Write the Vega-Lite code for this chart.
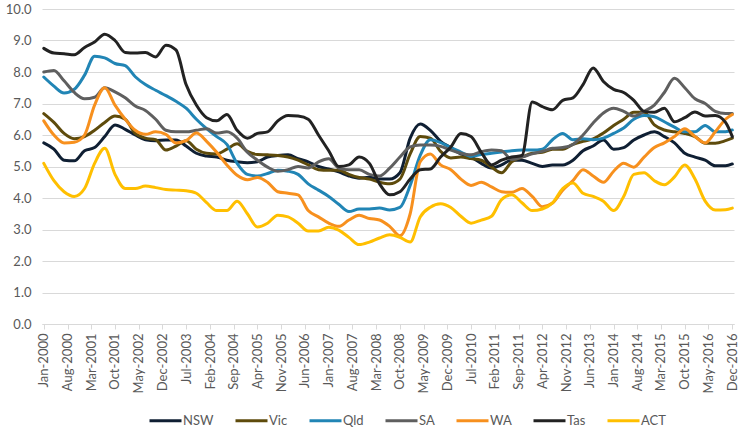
{
  "$schema": "https://vega.github.io/schema/vega-lite/v6.json",
  "width": 692,
  "height": 315,
  "autosize": {"type": "none"},
  "padding": {"left": 42, "top": 9, "right": 20, "bottom": 110},
  "background": "white",
  "config": {
    "view": {"stroke": null},
    "font": "Lato"
  },
  "data": {
    "values": [
      {"d": "2000-01-01", "NSW": 5.75, "Vic": 6.68, "Qld": 7.84, "SA": 8.0, "WA": 6.45, "Tas": 8.75, "ACT": 5.1},
      {"d": "2000-04-01", "NSW": 5.55, "Vic": 6.4, "Qld": 7.55, "SA": 8.05, "WA": 6.0, "Tas": 8.6, "ACT": 4.55},
      {"d": "2000-07-01", "NSW": 5.2, "Vic": 6.05, "Qld": 7.33, "SA": 7.72, "WA": 5.75, "Tas": 8.58, "ACT": 4.2},
      {"d": "2000-10-01", "NSW": 5.18, "Vic": 5.88, "Qld": 7.45, "SA": 7.35, "WA": 5.77, "Tas": 8.55, "ACT": 4.05},
      {"d": "2001-01-01", "NSW": 5.5, "Vic": 5.95, "Qld": 7.9, "SA": 7.15, "WA": 6.0, "Tas": 8.78, "ACT": 4.3},
      {"d": "2001-04-01", "NSW": 5.6, "Vic": 6.15, "Qld": 8.5, "SA": 7.2, "WA": 6.95, "Tas": 8.95, "ACT": 5.1},
      {"d": "2001-07-01", "NSW": 5.95, "Vic": 6.4, "Qld": 8.45, "SA": 7.5, "WA": 7.5, "Tas": 9.2, "ACT": 5.58},
      {"d": "2001-10-01", "NSW": 6.32, "Vic": 6.6, "Qld": 8.27, "SA": 7.37, "WA": 6.95, "Tas": 9.0, "ACT": 4.75},
      {"d": "2002-01-01", "NSW": 6.18, "Vic": 6.5, "Qld": 8.2, "SA": 7.18, "WA": 6.5, "Tas": 8.62, "ACT": 4.3},
      {"d": "2002-04-01", "NSW": 6.0, "Vic": 6.05, "Qld": 7.85, "SA": 6.92, "WA": 6.15, "Tas": 8.6, "ACT": 4.3},
      {"d": "2002-07-01", "NSW": 5.85, "Vic": 5.9, "Qld": 7.6, "SA": 6.78, "WA": 6.02, "Tas": 8.62, "ACT": 4.38},
      {"d": "2002-10-01", "NSW": 5.82, "Vic": 5.85, "Qld": 7.42, "SA": 6.5, "WA": 6.1, "Tas": 8.48, "ACT": 4.33},
      {"d": "2003-01-01", "NSW": 5.84, "Vic": 5.52, "Qld": 7.25, "SA": 6.15, "WA": 6.02, "Tas": 8.85, "ACT": 4.27},
      {"d": "2003-04-01", "NSW": 5.84, "Vic": 5.65, "Qld": 7.07, "SA": 6.1, "WA": 5.75, "Tas": 8.7, "ACT": 4.25},
      {"d": "2003-07-01", "NSW": 5.65, "Vic": 5.82, "Qld": 6.85, "SA": 6.1, "WA": 5.82, "Tas": 7.6, "ACT": 4.23},
      {"d": "2003-10-01", "NSW": 5.42, "Vic": 5.55, "Qld": 6.5, "SA": 6.15, "WA": 6.06, "Tas": 6.95, "ACT": 4.15},
      {"d": "2004-01-01", "NSW": 5.33, "Vic": 5.42, "Qld": 6.2, "SA": 6.2, "WA": 5.8, "Tas": 6.55, "ACT": 3.85},
      {"d": "2004-04-01", "NSW": 5.3, "Vic": 5.4, "Qld": 5.95, "SA": 6.06, "WA": 5.45, "Tas": 6.45, "ACT": 3.6},
      {"d": "2004-07-01", "NSW": 5.2, "Vic": 5.55, "Qld": 5.7, "SA": 6.1, "WA": 5.05, "Tas": 6.65, "ACT": 3.6},
      {"d": "2004-10-01", "NSW": 5.15, "Vic": 5.72, "Qld": 5.1, "SA": 5.9, "WA": 4.72, "Tas": 6.15, "ACT": 3.9},
      {"d": "2005-01-01", "NSW": 5.12, "Vic": 5.48, "Qld": 4.75, "SA": 5.45, "WA": 4.58, "Tas": 5.9, "ACT": 3.5},
      {"d": "2005-04-01", "NSW": 5.15, "Vic": 5.38, "Qld": 4.7, "SA": 5.2, "WA": 4.65, "Tas": 6.05, "ACT": 3.08},
      {"d": "2005-07-01", "NSW": 5.3, "Vic": 5.37, "Qld": 4.78, "SA": 4.98, "WA": 4.5, "Tas": 6.1, "ACT": 3.2},
      {"d": "2005-10-01", "NSW": 5.35, "Vic": 5.35, "Qld": 4.88, "SA": 4.85, "WA": 4.2, "Tas": 6.45, "ACT": 3.45},
      {"d": "2006-01-01", "NSW": 5.37, "Vic": 5.3, "Qld": 4.85, "SA": 4.9, "WA": 4.15, "Tas": 6.62, "ACT": 3.4},
      {"d": "2006-04-01", "NSW": 5.25, "Vic": 5.2, "Qld": 4.75, "SA": 5.0, "WA": 4.1, "Tas": 6.6, "ACT": 3.2},
      {"d": "2006-07-01", "NSW": 5.15, "Vic": 5.05, "Qld": 4.45, "SA": 4.95, "WA": 3.6, "Tas": 6.5, "ACT": 2.95},
      {"d": "2006-10-01", "NSW": 5.0, "Vic": 4.9, "Qld": 4.25, "SA": 5.15, "WA": 3.4, "Tas": 6.0, "ACT": 2.95},
      {"d": "2007-01-01", "NSW": 4.92, "Vic": 4.88, "Qld": 4.05, "SA": 5.25, "WA": 3.2, "Tas": 5.5, "ACT": 3.07},
      {"d": "2007-04-01", "NSW": 4.83, "Vic": 4.88, "Qld": 3.8, "SA": 4.95, "WA": 3.1, "Tas": 5.0, "ACT": 2.98},
      {"d": "2007-07-01", "NSW": 4.7, "Vic": 4.75, "Qld": 3.57, "SA": 4.9, "WA": 3.3, "Tas": 5.05, "ACT": 2.75},
      {"d": "2007-10-01", "NSW": 4.63, "Vic": 4.65, "Qld": 3.65, "SA": 4.9, "WA": 3.45, "Tas": 5.3, "ACT": 2.52},
      {"d": "2008-01-01", "NSW": 4.66, "Vic": 4.6, "Qld": 3.65, "SA": 4.75, "WA": 3.35, "Tas": 5.1, "ACT": 2.6},
      {"d": "2008-04-01", "NSW": 4.6, "Vic": 4.5, "Qld": 3.68, "SA": 4.7, "WA": 3.3, "Tas": 4.45, "ACT": 2.73},
      {"d": "2008-07-01", "NSW": 4.6, "Vic": 4.45, "Qld": 3.62, "SA": 4.95, "WA": 3.1, "Tas": 4.1, "ACT": 2.83},
      {"d": "2008-10-01", "NSW": 4.8, "Vic": 4.6, "Qld": 3.7, "SA": 5.3, "WA": 2.8, "Tas": 4.2, "ACT": 2.75},
      {"d": "2009-01-01", "NSW": 5.9, "Vic": 5.4, "Qld": 4.4, "SA": 5.62, "WA": 3.5, "Tas": 4.6, "ACT": 2.6},
      {"d": "2009-04-01", "NSW": 6.35, "Vic": 5.95, "Qld": 5.35, "SA": 5.68, "WA": 5.15, "Tas": 4.9, "ACT": 3.4},
      {"d": "2009-07-01", "NSW": 6.15, "Vic": 5.9, "Qld": 5.85, "SA": 5.68, "WA": 5.4, "Tas": 4.92, "ACT": 3.71},
      {"d": "2009-10-01", "NSW": 5.8, "Vic": 5.48, "Qld": 5.76, "SA": 5.64, "WA": 5.05, "Tas": 5.3, "ACT": 3.82},
      {"d": "2010-01-01", "NSW": 5.6, "Vic": 5.27, "Qld": 5.6, "SA": 5.52, "WA": 4.9, "Tas": 5.62, "ACT": 3.7},
      {"d": "2010-04-01", "NSW": 5.4, "Vic": 5.3, "Qld": 5.46, "SA": 5.42, "WA": 4.6, "Tas": 6.05, "ACT": 3.42},
      {"d": "2010-07-01", "NSW": 5.3, "Vic": 5.25, "Qld": 5.32, "SA": 5.37, "WA": 4.4, "Tas": 5.95, "ACT": 3.2},
      {"d": "2010-10-01", "NSW": 5.1, "Vic": 5.2, "Qld": 5.38, "SA": 5.47, "WA": 4.5, "Tas": 5.45, "ACT": 3.3},
      {"d": "2011-01-01", "NSW": 4.95, "Vic": 4.98, "Qld": 5.42, "SA": 5.52, "WA": 4.35, "Tas": 5.05, "ACT": 3.42},
      {"d": "2011-04-01", "NSW": 5.05, "Vic": 4.8, "Qld": 5.46, "SA": 5.5, "WA": 4.2, "Tas": 5.2, "ACT": 3.95},
      {"d": "2011-07-01", "NSW": 5.2, "Vic": 5.15, "Qld": 5.5, "SA": 5.22, "WA": 4.18, "Tas": 5.3, "ACT": 4.1},
      {"d": "2011-10-01", "NSW": 5.2, "Vic": 5.3, "Qld": 5.52, "SA": 5.3, "WA": 4.3, "Tas": 5.35, "ACT": 3.85},
      {"d": "2012-01-01", "NSW": 5.1, "Vic": 5.42, "Qld": 5.52, "SA": 5.4, "WA": 4.05, "Tas": 7.05, "ACT": 3.6},
      {"d": "2012-04-01", "NSW": 5.0, "Vic": 5.45, "Qld": 5.55, "SA": 5.48, "WA": 3.72, "Tas": 6.9, "ACT": 3.65},
      {"d": "2012-07-01", "NSW": 5.05, "Vic": 5.55, "Qld": 5.85, "SA": 5.58, "WA": 3.84, "Tas": 6.8, "ACT": 3.84},
      {"d": "2012-10-01", "NSW": 5.05, "Vic": 5.55, "Qld": 6.05, "SA": 5.6, "WA": 4.25, "Tas": 7.1, "ACT": 4.3},
      {"d": "2013-01-01", "NSW": 5.2, "Vic": 5.7, "Qld": 5.85, "SA": 5.7, "WA": 4.55, "Tas": 7.18, "ACT": 4.48},
      {"d": "2013-04-01", "NSW": 5.5, "Vic": 5.8, "Qld": 5.88, "SA": 6.0, "WA": 4.9, "Tas": 7.6, "ACT": 4.15},
      {"d": "2013-07-01", "NSW": 5.65, "Vic": 5.88, "Qld": 5.85, "SA": 6.38, "WA": 4.7, "Tas": 8.13, "ACT": 4.05},
      {"d": "2013-10-01", "NSW": 5.84, "Vic": 6.06, "Qld": 5.9, "SA": 6.7, "WA": 4.5, "Tas": 7.7, "ACT": 3.9},
      {"d": "2014-01-01", "NSW": 5.55, "Vic": 6.3, "Qld": 6.05, "SA": 6.85, "WA": 4.85, "Tas": 7.45, "ACT": 3.6},
      {"d": "2014-04-01", "NSW": 5.6, "Vic": 6.5, "Qld": 6.22, "SA": 6.75, "WA": 5.1, "Tas": 7.35, "ACT": 4.05},
      {"d": "2014-07-01", "NSW": 5.84, "Vic": 6.72, "Qld": 6.5, "SA": 6.6, "WA": 4.98, "Tas": 7.1, "ACT": 4.75},
      {"d": "2014-10-01", "NSW": 6.0, "Vic": 6.72, "Qld": 6.62, "SA": 6.75, "WA": 5.3, "Tas": 6.75, "ACT": 4.8},
      {"d": "2015-01-01", "NSW": 6.1, "Vic": 6.32, "Qld": 6.58, "SA": 6.95, "WA": 5.6, "Tas": 6.72, "ACT": 4.55},
      {"d": "2015-04-01", "NSW": 5.95, "Vic": 6.16, "Qld": 6.42, "SA": 7.35, "WA": 5.75, "Tas": 6.85, "ACT": 4.42},
      {"d": "2015-07-01", "NSW": 5.75, "Vic": 6.1, "Qld": 6.25, "SA": 7.8, "WA": 5.95, "Tas": 6.42, "ACT": 4.67},
      {"d": "2015-10-01", "NSW": 5.42, "Vic": 6.05, "Qld": 6.1, "SA": 7.5, "WA": 6.2, "Tas": 6.55, "ACT": 5.05},
      {"d": "2016-01-01", "NSW": 5.3, "Vic": 5.95, "Qld": 6.1, "SA": 7.15, "WA": 5.95, "Tas": 6.73, "ACT": 4.6},
      {"d": "2016-04-01", "NSW": 5.2, "Vic": 5.74, "Qld": 6.3, "SA": 7.0, "WA": 5.75, "Tas": 6.6, "ACT": 3.9},
      {"d": "2016-07-01", "NSW": 5.02, "Vic": 5.74, "Qld": 6.1, "SA": 6.75, "WA": 6.1, "Tas": 6.62, "ACT": 3.62},
      {"d": "2016-10-01", "NSW": 5.02, "Vic": 5.82, "Qld": 6.1, "SA": 6.68, "WA": 6.5, "Tas": 6.4, "ACT": 3.63},
      {"d": "2016-12-01", "NSW": 5.08, "Vic": 5.9, "Qld": 6.16, "SA": 6.68, "WA": 6.65, "Tas": 5.95, "ACT": 3.68}
    ]
  },
  "transform": [
    {"fold": ["NSW", "Vic", "Qld", "SA", "WA", "Tas", "ACT"], "as": ["s", "v"]}
  ],
  "mark": {"type": "line", "interpolate": "monotone", "strokeWidth": 3, "strokeCap": "round", "strokeJoin": "round"},
  "encoding": {
    "x": {
      "field": "d",
      "type": "temporal",
      "scale": {
        "type": "utc",
        "domain": [
          {"year": 1999, "month": 12, "date": 16, "utc": true},
          {"year": 2016, "month": 12, "date": 16, "utc": true}
        ]
      },
      "axis": {
        "title": null,
        "format": "%b-%Y",
        "labelAngle": -90,
        "labelFontSize": 13,
        "labelColor": "#595959",
        "labelPadding": 4,
        "domainColor": "#d9d9d9",
        "tickColor": "#d9d9d9",
        "tickSize": 5,
        "grid": false,
        "labelOverlap": false,
        "labelFlush": false,
        "values": [
          {"year": 2000, "month": 1, "date": 1, "utc": true},
          {"year": 2000, "month": 8, "date": 1, "utc": true},
          {"year": 2001, "month": 3, "date": 1, "utc": true},
          {"year": 2001, "month": 10, "date": 1, "utc": true},
          {"year": 2002, "month": 5, "date": 1, "utc": true},
          {"year": 2002, "month": 12, "date": 1, "utc": true},
          {"year": 2003, "month": 7, "date": 1, "utc": true},
          {"year": 2004, "month": 2, "date": 1, "utc": true},
          {"year": 2004, "month": 9, "date": 1, "utc": true},
          {"year": 2005, "month": 4, "date": 1, "utc": true},
          {"year": 2005, "month": 11, "date": 1, "utc": true},
          {"year": 2006, "month": 6, "date": 1, "utc": true},
          {"year": 2007, "month": 1, "date": 1, "utc": true},
          {"year": 2007, "month": 8, "date": 1, "utc": true},
          {"year": 2008, "month": 3, "date": 1, "utc": true},
          {"year": 2008, "month": 10, "date": 1, "utc": true},
          {"year": 2009, "month": 5, "date": 1, "utc": true},
          {"year": 2009, "month": 12, "date": 1, "utc": true},
          {"year": 2010, "month": 7, "date": 1, "utc": true},
          {"year": 2011, "month": 2, "date": 1, "utc": true},
          {"year": 2011, "month": 9, "date": 1, "utc": true},
          {"year": 2012, "month": 4, "date": 1, "utc": true},
          {"year": 2012, "month": 11, "date": 1, "utc": true},
          {"year": 2013, "month": 6, "date": 1, "utc": true},
          {"year": 2014, "month": 1, "date": 1, "utc": true},
          {"year": 2014, "month": 8, "date": 1, "utc": true},
          {"year": 2015, "month": 3, "date": 1, "utc": true},
          {"year": 2015, "month": 10, "date": 1, "utc": true},
          {"year": 2016, "month": 5, "date": 1, "utc": true},
          {"year": 2016, "month": 12, "date": 1, "utc": true}
        ]
      }
    },
    "y": {
      "field": "v",
      "type": "quantitative",
      "scale": {"domain": [0, 10], "nice": false},
      "axis": {
        "title": null,
        "values": [0, 1, 2, 3, 4, 5, 6, 7, 8, 9, 10],
        "format": ".1f",
        "labelFontSize": 13,
        "labelColor": "#595959",
        "labelPadding": 11,
        "domain": false,
        "ticks": false,
        "gridColor": "#d9d9d9",
        "gridWidth": 1
      }
    },
    "color": {
      "field": "s",
      "type": "nominal",
      "scale": {
        "domain": ["NSW", "Vic", "Qld", "SA", "WA", "Tas", "ACT"],
        "range": ["#0f1f33", "#5e4b0c", "#2185b5", "#5f5f5f", "#f7901e", "#222222", "#ffbf00"]
      },
      "legend": {
        "title": null,
        "orient": "none",
        "legendX": 106,
        "legendY": 394,
        "direction": "horizontal",
        "symbolType": "stroke",
        "symbolSize": 1024,
        "symbolStrokeWidth": 3,
        "labelFontSize": 13,
        "labelColor": "#595959",
        "labelOffset": 0,
        "columnPadding": 15
      }
    }
  }
}
